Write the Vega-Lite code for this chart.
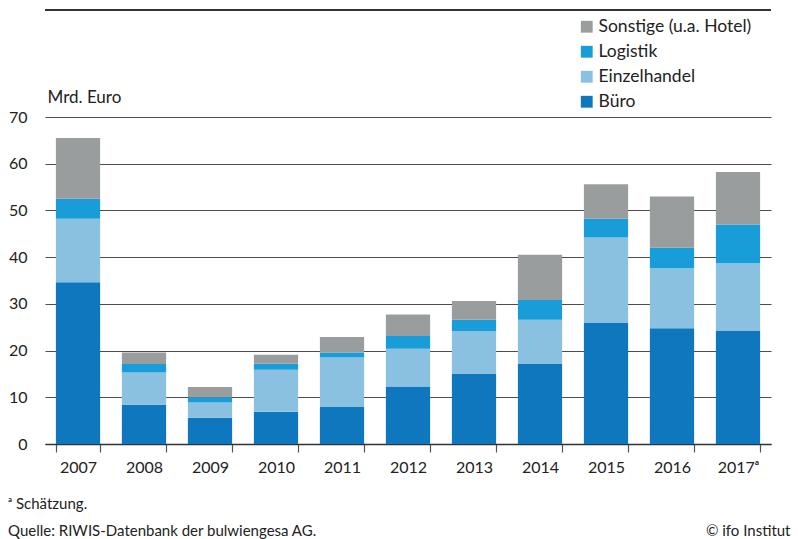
{
  "$schema": "https://vega.github.io/schema/vega-lite/v6.json",
  "width": 726,
  "height": 327,
  "autosize": {"type": "none"},
  "padding": {"left": 45, "top": 117, "right": 27, "bottom": 95},
  "background": "white",
  "config": {
    "font": "Lato",
    "view": {"stroke": null},
    "axis": {"labelFont": "Lato", "titleFont": "Lato"},
    "legend": {"labelFont": "Lato"}
  },
  "title": {
    "text": ["ᵃ Schätzung.", "Quelle: RIWIS-Datenbank der bulwiengesa AG."],
    "orient": "bottom",
    "anchor": "start",
    "frame": "group",
    "dx": -37,
    "offset": -41,
    "fontSize": 15,
    "fontWeight": "normal",
    "lineHeight": 27,
    "color": "#222222",
    "font": "Lato"
  },
  "layer": [
    {
      "data": {
        "values": [
          {"jahr": "2007", "kategorie": "Büro", "wert": 34.6},
          {"jahr": "2007", "kategorie": "Einzelhandel", "wert": 13.6},
          {"jahr": "2007", "kategorie": "Logistik", "wert": 4.3},
          {"jahr": "2007", "kategorie": "Sonstige (u.a. Hotel)", "wert": 13.0},
          {"jahr": "2008", "kategorie": "Büro", "wert": 8.4},
          {"jahr": "2008", "kategorie": "Einzelhandel", "wert": 6.9},
          {"jahr": "2008", "kategorie": "Logistik", "wert": 1.8},
          {"jahr": "2008", "kategorie": "Sonstige (u.a. Hotel)", "wert": 2.5},
          {"jahr": "2009", "kategorie": "Büro", "wert": 5.6},
          {"jahr": "2009", "kategorie": "Einzelhandel", "wert": 3.3},
          {"jahr": "2009", "kategorie": "Logistik", "wert": 1.1},
          {"jahr": "2009", "kategorie": "Sonstige (u.a. Hotel)", "wert": 2.2},
          {"jahr": "2010", "kategorie": "Büro", "wert": 6.9},
          {"jahr": "2010", "kategorie": "Einzelhandel", "wert": 9.0},
          {"jahr": "2010", "kategorie": "Logistik", "wert": 1.3},
          {"jahr": "2010", "kategorie": "Sonstige (u.a. Hotel)", "wert": 1.9},
          {"jahr": "2011", "kategorie": "Büro", "wert": 7.9},
          {"jahr": "2011", "kategorie": "Einzelhandel", "wert": 10.6},
          {"jahr": "2011", "kategorie": "Logistik", "wert": 1.1},
          {"jahr": "2011", "kategorie": "Sonstige (u.a. Hotel)", "wert": 3.3},
          {"jahr": "2012", "kategorie": "Büro", "wert": 12.3},
          {"jahr": "2012", "kategorie": "Einzelhandel", "wert": 8.1},
          {"jahr": "2012", "kategorie": "Logistik", "wert": 2.7},
          {"jahr": "2012", "kategorie": "Sonstige (u.a. Hotel)", "wert": 4.6},
          {"jahr": "2013", "kategorie": "Büro", "wert": 15.0},
          {"jahr": "2013", "kategorie": "Einzelhandel", "wert": 9.2},
          {"jahr": "2013", "kategorie": "Logistik", "wert": 2.4},
          {"jahr": "2013", "kategorie": "Sonstige (u.a. Hotel)", "wert": 4.0},
          {"jahr": "2014", "kategorie": "Büro", "wert": 17.1},
          {"jahr": "2014", "kategorie": "Einzelhandel", "wert": 9.5},
          {"jahr": "2014", "kategorie": "Logistik", "wert": 4.2},
          {"jahr": "2014", "kategorie": "Sonstige (u.a. Hotel)", "wert": 9.7},
          {"jahr": "2015", "kategorie": "Büro", "wert": 25.9},
          {"jahr": "2015", "kategorie": "Einzelhandel", "wert": 18.3},
          {"jahr": "2015", "kategorie": "Logistik", "wert": 4.0},
          {"jahr": "2015", "kategorie": "Sonstige (u.a. Hotel)", "wert": 7.4},
          {"jahr": "2016", "kategorie": "Büro", "wert": 24.8},
          {"jahr": "2016", "kategorie": "Einzelhandel", "wert": 12.8},
          {"jahr": "2016", "kategorie": "Logistik", "wert": 4.4},
          {"jahr": "2016", "kategorie": "Sonstige (u.a. Hotel)", "wert": 11.0},
          {"jahr": "2017ᵃ", "kategorie": "Büro", "wert": 24.3},
          {"jahr": "2017ᵃ", "kategorie": "Einzelhandel", "wert": 14.4},
          {"jahr": "2017ᵃ", "kategorie": "Logistik", "wert": 8.3},
          {"jahr": "2017ᵃ", "kategorie": "Sonstige (u.a. Hotel)", "wert": 11.2}
        ]
      },
      "mark": {"type": "bar"},
      "encoding": {
        "x": {
          "field": "jahr",
          "type": "nominal",
          "sort": null,
          "scale": {"paddingInner": 0.33, "paddingOuter": 0.165},
          "axis": {
            "title": "© ifo Institut",
            "titleAnchor": "end",
            "titleAlign": "right",
            "titleX": 745,
            "titleY": 86,
            "titleBaseline": "middle",
            "titleFontSize": 15,
            "titleFontWeight": "normal",
            "titleColor": "#222222",
            "labelAngle": 0,
            "labelFontSize": 16,
            "labelColor": "#222222",
            "labelPadding": 7,
            "domainColor": "#333333",
            "domainWidth": 1.5,
            "ticks": true,
            "tickBand": "extent",
            "tickSize": 8,
            "tickColor": "#555555",
            "tickWidth": 1.2,
            "grid": false
          }
        },
        "y": {
          "field": "wert",
          "type": "quantitative",
          "stack": "zero",
          "scale": {"domain": [0, 70], "nice": false},
          "axis": {
            "title": "Mrd. Euro",
            "titleAngle": 0,
            "titleAlign": "left",
            "titleX": 2,
            "titleY": -20,
            "titleBaseline": "middle",
            "titleFontSize": 17,
            "titleFontWeight": "normal",
            "titleColor": "#222222",
            "values": [0, 10, 20, 30, 40, 50, 60, 70],
            "labelFontSize": 16,
            "labelColor": "#222222",
            "labelPadding": 18,
            "ticks": false,
            "domain": false,
            "grid": true,
            "gridColor": "#4d4d4d",
            "gridWidth": 1.2
          }
        },
        "color": {
          "field": "kategorie",
          "type": "nominal",
          "scale": {
            "domain": ["Sonstige (u.a. Hotel)", "Logistik", "Einzelhandel", "Büro"],
            "range": ["#9a9d9e", "#199dd8", "#8ac0e0", "#0f77bd"]
          },
          "legend": {
            "title": null,
            "orient": "none",
            "legendX": 533,
            "legendY": -99,
            "symbolType": "square",
            "symbolSize": 140,
            "symbolStrokeWidth": 0,
            "symbolOpacity": 1,
            "labelFontSize": 17.5,
            "labelColor": "#222222",
            "labelOffset": 3,
            "rowPadding": 6
          }
        },
        "order": {"field": "kategorie", "sort": "ascending"}
      }
    },
    {
      "data": {"values": [{"linie": "oben"}]},
      "mark": {"type": "rule", "color": "#333333", "strokeWidth": 2},
      "encoding": {
        "y": {"datum": 92.9, "type": "quantitative"}
      }
    }
  ]
}
